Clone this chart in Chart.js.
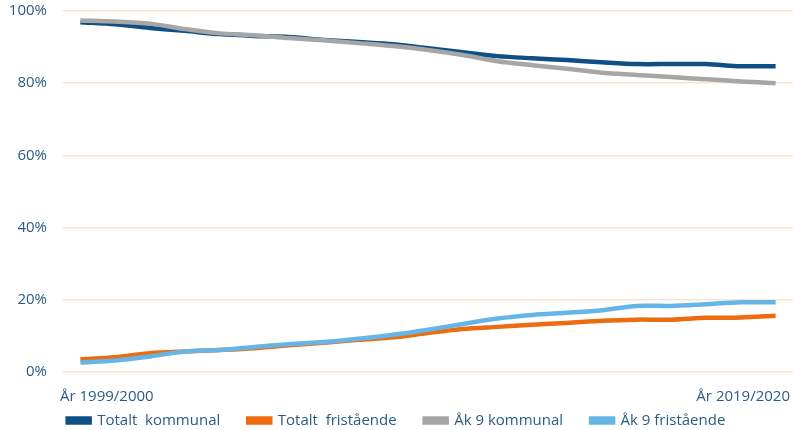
<!DOCTYPE html>
<html>
<head>
<meta charset="utf-8">
<script src="https://cdn.jsdelivr.net/npm/chart.js@4/dist/chart.umd.min.js"></script>
<style>
  html, body { margin: 0; padding: 0; background: #fff; }
  #wrap { width: 793px; height: 430px; }
</style>
</head>
<body>
<div id="wrap"><canvas id="chart"></canvas></div>
<script>
// läsår
const labels = ['År 1999/2000', 'År 2000/2001', 'År 2001/2002', 'År 2002/2003', 'År 2003/2004',
  'År 2004/2005', 'År 2005/2006', 'År 2006/2007', 'År 2007/2008', 'År 2008/2009',
  'År 2009/2010', 'År 2010/2011', 'År 2011/2012', 'År 2012/2013', 'År 2013/2014',
  'År 2014/2015', 'År 2015/2016', 'År 2016/2017', 'År 2017/2018', 'År 2018/2019',
  'År 2019/2020'];

// andel elever, procent
const totaltKommunal = [96.9, 96.3, 95.3, 94.5, 93.6, 93.1, 92.8, 92.0, 91.4, 90.8, 89.7,
  88.6, 87.5, 86.9, 86.4, 85.8, 85.3, 85.3, 85.3, 84.7, 84.7];
const totaltFristaende = [3.5, 4.1, 5.2, 5.7, 6.1, 6.6, 7.4, 8.1, 8.9, 9.6, 10.8,
  11.9, 12.5, 13.1, 13.6, 14.2, 14.5, 14.5, 15.0, 15.1, 15.6];
const ak9Kommunal = [97.4, 97.1, 96.5, 95.0, 93.8, 93.3, 92.5, 91.9, 91.1, 90.3, 89.2,
  87.8, 86.1, 85.0, 84.0, 82.9, 82.3, 81.7, 81.1, 80.5, 80.0];
const ak9Fristaende = [2.6, 3.2, 4.3, 5.7, 6.1, 6.9, 7.7, 8.3, 9.2, 10.3, 11.7,
  13.3, 14.8, 15.8, 16.4, 17.1, 18.3, 18.3, 18.8, 19.3, 19.3];

const yTicks = [0, 20, 40, 60, 80, 100];

const textColor = '#2b5b86';
const gridColor = '#fbe3d3';

function serie(label, data, color, order) {
  return {
    label: label,
    data: data,
    borderColor: color,
    backgroundColor: color,
    borderWidth: 4.5,
    pointRadius: 0,
    tension: 0.3,
    fill: false,
    order: order
  };
}

// förklaringen: låg höjd i layouten, sedan utökas rutan uppåt
const legendPlace = {
  id: 'legendPlace',
  beforeInit(chart) {
    const fit = chart.legend.fit;
    chart.legend.fit = function () {
      fit.call(this);
      this.height = 21;
    };
  },
  afterLayout(chart) {
    chart.legend.top -= 24;
    chart.legend.height += 24;
  }
};

function xFit(h) {
  return s => {
    s.height = h;
    s.paddingLeft = 0;
    s.paddingRight = 0;
  };
}

Chart.defaults.font.family = '"Open Sans", sans-serif';
Chart.defaults.font.size = 15;
Chart.defaults.color = textColor;

new Chart(document.getElementById('chart'), {
  type: 'line',
  data: {
    labels: labels,
    datasets: [
      serie('Totalt  kommunal', totaltKommunal, '#0e4f86', 4),
      serie('Totalt  fristående', totaltFristaende, '#ec6c0f', 3),
      serie('Åk 9 kommunal', ak9Kommunal, '#a6a6a6', 2),
      serie('Åk 9 fristående', ak9Fristaende, '#65b6e7', 1)
    ]
  },
  plugins: [legendPlace],
  options: {
    responsive: true,
    maintainAspectRatio: false,
    animation: false,
    layout: { padding: { top: 11, right: 0, left: 0, bottom: 0 } },
    plugins: {
      tooltip: { enabled: false },
      legend: {
        position: 'bottom',
        labels: {
          boxWidth: 22,
          boxHeight: 4,
          padding: 28,
          color: textColor,
          sort: (a, b) => a.datasetIndex - b.datasetIndex
        }
      }
    },
    scales: {
      x: {
        offset: true,
        afterFit: xFit(0),
        grid: { display: false, drawTicks: false },
        border: { display: false },
        ticks: { display: false }
      },
      // bara första och sista läsåret, i diagramytans kanter
      xLabels: {
        type: 'category',
        position: 'bottom',
        labels: labels,
        offset: false,
        afterFit: xFit(37),
        grid: { display: false, drawTicks: false },
        border: { display: false },
        ticks: {
          autoSkip: false,
          maxRotation: 0,
          align: 'inner',
          padding: 16,
          labelOffset: -3,
          callback: function (v, i) {
            return (i === 0 || i === labels.length - 1) ? labels[i] : '';
          }
        }
      },
      y: {
        min: 0,
        max: 100,
        afterFit: s => { s.width = 63; s.paddingTop = 0; s.paddingBottom = 0; },
        afterBuildTicks: s => { s.ticks = yTicks.map(v => ({ value: v })); },
        grid: { color: gridColor, lineWidth: 1.5, drawTicks: false },
        border: { display: false },
        ticks: {
          padding: 16,
          callback: v => v + '%'
        }
      }
    }
  }
});
</script>
</body>
</html>
